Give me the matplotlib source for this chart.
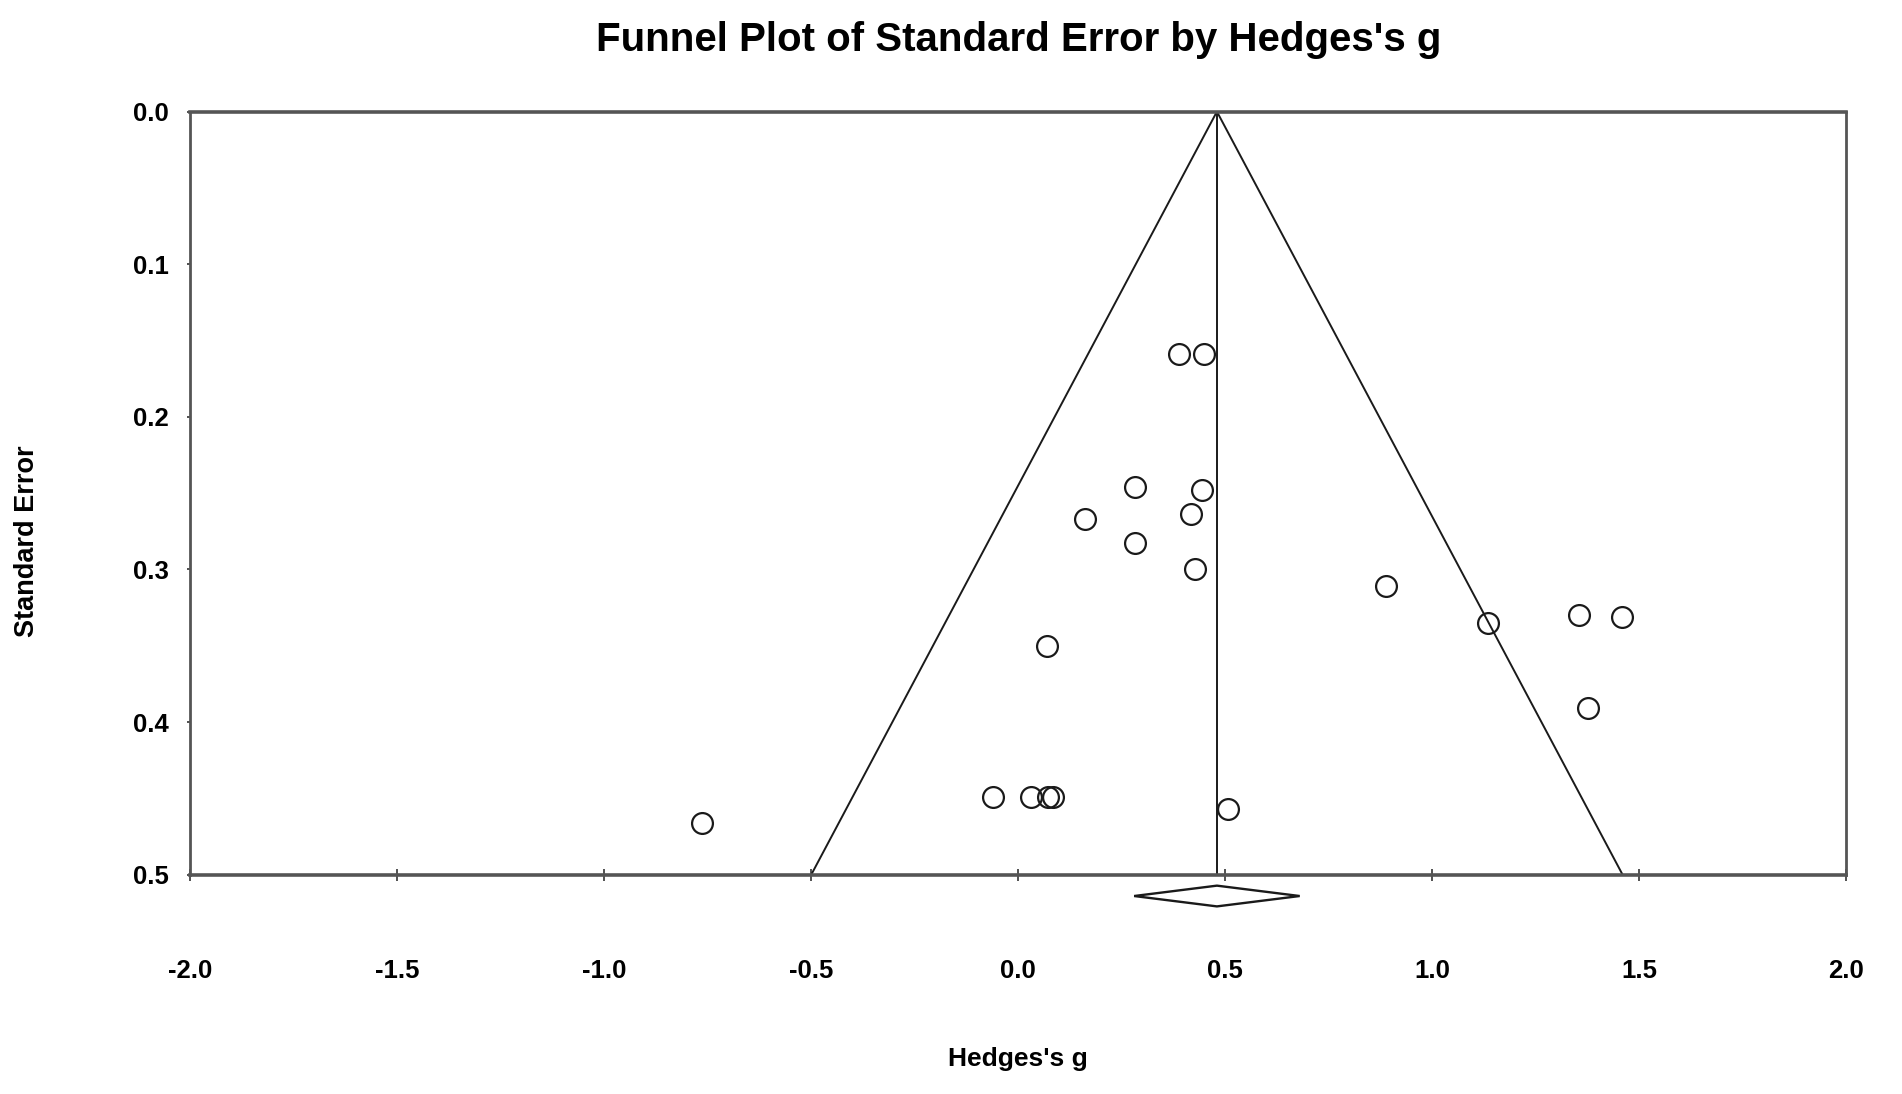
import matplotlib
matplotlib.use("Agg")
import matplotlib.pyplot as plt
from matplotlib.patches import Polygon
import numpy as np

# Study-level data
hedges_g = [0.388, 0.449, 0.281, 0.444, 0.162, 0.417, 0.281, 0.428,
            0.889, 1.136, 1.355, 1.458, 0.069, 1.376,
            -0.060, 0.030, 0.072, 0.083, 0.506, -0.765]
std_error = [0.159, 0.159, 0.246, 0.248, 0.267, 0.264, 0.283, 0.300,
             0.311, 0.335, 0.330, 0.331, 0.350, 0.391,
             0.449, 0.449, 0.449, 0.449, 0.457, 0.466]

# Summary effect
summary_g = 0.48
summary_ci = (0.28, 0.68)
se_max = 0.5

x_ticks = [-2.0, -1.5, -1.0, -0.5, 0.0, 0.5, 1.0, 1.5, 2.0]
y_ticks = [0.0, 0.1, 0.2, 0.3, 0.4, 0.5]

plt.rcParams['font.family'] = ['Liberation Sans', 'DejaVu Sans']

fig = plt.figure(figsize=(19.02, 10.94), dpi=100)
ax = fig.add_axes([0.1001, 0.2005, 0.8705, 0.6975])

# Funnel (pseudo 95% limits) and mean line
z = 1.96
ax.plot([summary_g - z * se_max, summary_g, summary_g + z * se_max],
        [se_max, 0.0, se_max], color='#1a1a1a', lw=1.4, zorder=2)
ax.plot([summary_g, summary_g], [0.0, se_max], color='#1a1a1a', lw=1.4, zorder=2)

# Studies
ax.plot(hedges_g, std_error, linestyle='none', marker='o', ms=15,
        mfc='none', mec='#1a1a1a', mew=1.6, zorder=3)

# Summary diamond below axis
dh = 0.0068
dy = se_max + 0.014
diamond = Polygon([[summary_ci[0], dy], [summary_g, dy - dh],
                   [summary_ci[1], dy], [summary_g, dy + dh]],
                  closed=True, fill=False, edgecolor='#1a1a1a', lw=1.7,
                  clip_on=False, zorder=3)
ax.add_patch(diamond)

ax.set_xlim(-2.0, 2.0)
ax.set_ylim(0.5, 0.0)
ax.set_xticks(x_ticks)
ax.set_xticklabels([f"{t:.1f}" for t in x_ticks])
ax.set_yticks(y_ticks)
ax.set_yticklabels([f"{t:.1f}" for t in y_ticks])

ax.tick_params(axis='x', direction='inout', length=8, width=1.2,
               color='#333333', pad=57, labelsize=18.5)
ax.tick_params(axis='y', direction='out', length=2.5, width=1.2,
               color='#333333', pad=13, labelsize=18.5)
for lab in ax.get_xticklabels() + ax.get_yticklabels():
    lab.set_fontweight('bold')

for side in ['top', 'bottom']:
    ax.spines[side].set_linewidth(2.6)
    ax.spines[side].set_color('#555555')
for side in ['left', 'right']:
    ax.spines[side].set_linewidth(2.0)
    ax.spines[side].set_color('#555555')

ax.set_xlabel("Hedges's g", fontsize=19, fontweight='bold')
ax.xaxis.set_label_coords(0.5, -0.2417)
ax.xaxis.label.set_va('center')
ax.set_ylabel("Standard Error", fontsize=19.5, fontweight='bold')
ax.yaxis.set_label_coords(-0.0987, 0.437)
ax.yaxis.label.set_va('center')

fig.text(0.5355, 1 - 40 / 1094, "Funnel Plot of Standard Error by Hedges's g",
         ha='center', va='center', fontsize=29, fontweight='bold')

fig.savefig("out.png", dpi=100, facecolor='white')
